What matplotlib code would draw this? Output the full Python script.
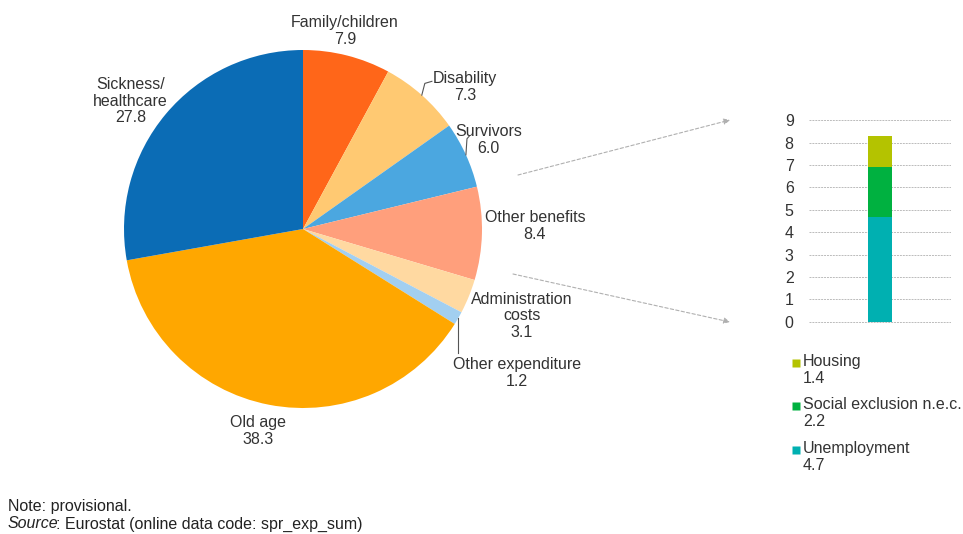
import numpy as np
import matplotlib
matplotlib.use("Agg")
import matplotlib.pyplot as plt

plt.rcParams["font.family"] = ["Liberation Sans", "DejaVu Sans"]

# pie, drawn clockwise from 12 o'clock
pie_labels = ["Family/children", "Disability", "Survivors", "Other benefits",
              "Administration\ncosts", "Other expenditure", "Old age",
              "Sickness/\nhealthcare"]
pie_values = [7.9, 7.3, 6.0, 8.4, 3.1, 1.2, 38.3, 27.8]
pie_colors = ["#ff6619", "#ffc972", "#4ba7e0", "#ff9f7c",
              "#ffd9a1", "#a2cff0", "#ffa700", "#0b6cb5"]

# stacked bar (breakdown of "Other benefits")
bar_labels = ["Unemployment", "Social exclusion n.e.c.", "Housing"]
bar_values = [4.7, 2.2, 1.4]
bar_colors = ["#00b0b1", "#00b140", "#b4c300"]
bar_ticks = list(range(0, 10))

txt = "#333333"
fs = 11.5
ls = 1.15

W, H = 963, 534
fig = plt.figure(figsize=(W / 100, H / 100), dpi=100)

# ---- pie
cx, cy, r = 303, 229, 179
ax = fig.add_axes([(cx - r) / W, (H - cy - r) / H, 2 * r / W, 2 * r / H])
wedges, _ = ax.pie(pie_values, colors=pie_colors, startangle=90,
                   counterclock=False, radius=1,
                   wedgeprops=dict(linewidth=0))
ax.set_xlim(-1, 1)
ax.set_ylim(-1, 1)
ax.set_aspect("equal")
ax.axis("off")

label_pos = [(0.235, 1.106), (0.905, 0.793), (1.035, 0.497), (1.296, 0.017),
             (1.223, -0.486), (1.196, -0.804), (-0.251, -1.128), (-0.964, 0.715)]
for lab, val, (x, y) in zip(pie_labels, pie_values, label_pos):
    ax.text(x, y, f"{lab}\n{val:.1f}", ha="center", va="center",
            fontsize=fs, color=txt, linespacing=ls, clip_on=False)

# leader lines from wedge mid-angle
leader_end = {1: (0.72, 0.825), 2: (0.93, 0.52), 5: None}
for i, end in leader_end.items():
    w = wedges[i]
    a = np.deg2rad((w.theta1 + w.theta2) / 2)
    x0, y0 = np.cos(a), np.sin(a)
    if end is None:
        xs, ys = [x0, x0], [y0, -0.69]
    else:
        xe, ye = end
        xs = [x0, x0 + (xe - x0) * 0.3, xe]
        ys = [y0, ye - (ye - y0) * 0.15, ye]
    ax.plot(xs, ys, color="#555555", lw=0.8, clip_on=False)

# ---- stacked bar
bx = fig.add_axes([809 / W, (H - 323) / H, 142 / W, 204 / H])
bottom = 0
for lab, val, col in zip(bar_labels, bar_values, bar_colors):
    bx.bar(0, val, bottom=bottom, width=0.33, color=col, zorder=3)
    bottom += val
bx.set_xlim(-1, 1)
bx.set_ylim(-0.05, 9.05)
bx.set_yticks(bar_ticks)
bx.set_xticks([])
bx.tick_params(axis="y", length=0, labelsize=fs, labelcolor=txt, pad=11)
bx.grid(axis="y", color="#bbbbbb", linestyle=(0, (2, 1)), lw=0.7, zorder=0)
for s in bx.spines.values():
    s.set_visible(False)

# ---- overlay for arrows, legend and notes (pixel coords)
ov = fig.add_axes([0, 0, 1, 1], facecolor="none")
ov.set_xlim(0, W)
ov.set_ylim(H, 0)
ov.axis("off")

for start, end in [((518, 175), (730, 120)), ((513, 274), (730, 322))]:
    ov.annotate("", xy=end, xytext=start,
                arrowprops=dict(arrowstyle="-|>", color="#b0b0b0", lw=0.8,
                                linestyle=(0, (3, 2)), mutation_scale=9,
                                shrinkA=0, shrinkB=0))

leg_y = [363, 406, 450]
for (lab, val, col), y in zip(list(zip(bar_labels, bar_values, bar_colors))[::-1], leg_y):
    ov.plot(796, y, marker="s", ms=6, color=col, mec="none", ls="none")
    ov.text(803, y - 9, f"{lab}\n{val:.1f}", ha="left", va="top",
            fontsize=fs, color=txt, linespacing=ls)

ov.text(8, 506, "Note: provisional.", ha="left", va="center", fontsize=fs, color="#222222")
src = ov.text(8, 524, "Source", ha="left", va="center", fontsize=fs,
              color="#222222", style="italic")
ov.annotate(": Eurostat (online data code: spr_exp_sum)", xy=(1, 0.5),
            xycoords=src, xytext=(-2, 0), textcoords="offset points",
            ha="left", va="center", fontsize=fs, color="#222222")

fig.savefig("out.png", dpi=100)
